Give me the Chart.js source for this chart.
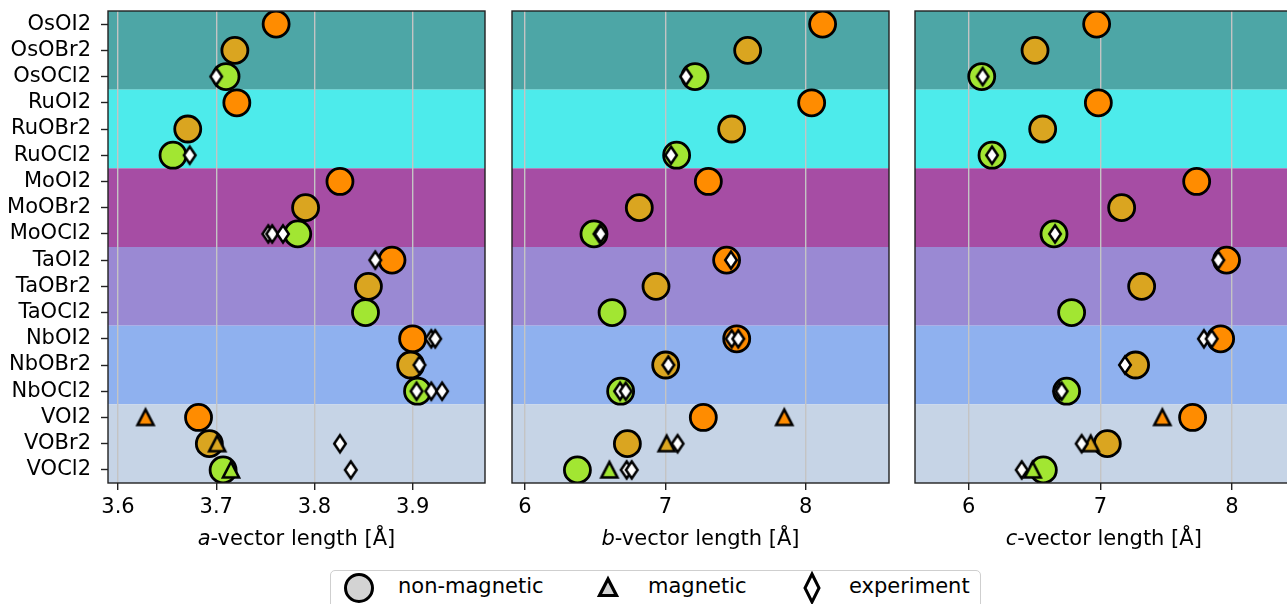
<!DOCTYPE html>
<html>
<head>
<meta charset="utf-8">
<script src="https://cdn.jsdelivr.net/npm/chart.js@4.4.1/dist/chart.umd.min.js"></script>
<style>
  html, body { margin: 0; padding: 0; background: #fff; }
  body { width: 1287px; height: 604px; overflow: hidden; position: relative; font-family: "DejaVu Sans", sans-serif; }
  canvas { position: absolute; top: 0; }
  #chartA { left: 0; }
  #chartB { left: 500px; }
  #chartC { left: 905px; }
  #legend { position: absolute; left: 330px; top: 570px; width: 649px; height: 50px;
            border: 1px solid #cfcfcf; border-radius: 5px; background: #fff; }
  #legend svg, #legend span { position: absolute; }
  #legend span { font-size: 21px; line-height: 21px; top: 5px; color: #000; white-space: nowrap; }
</style>
</head>
<body>
<canvas id="chartA" width="495" height="560"></canvas>
<canvas id="chartB" width="400" height="560"></canvas>
<canvas id="chartC" width="400" height="560"></canvas>

<div id="legend">
  <svg style="left:12px;top:1px" width="32" height="32"><circle cx="16" cy="16" r="13.5" fill="#d3d3d3" stroke="#000" stroke-width="3"/></svg>
  <span style="left:67px">non-magnetic</span>
  <svg style="left:264px;top:4px" width="26" height="26"><polygon points="13,4 4.5,20.5 21.5,20.5" fill="#d3d3d3" stroke="#000" stroke-width="3.2"/></svg>
  <span style="left:317px">magnetic</span>
  <svg style="left:468px;top:0px" width="26" height="34"><polygon points="13,3 20,17 13,31 6,17" fill="#fff" stroke="#000" stroke-width="3"/></svg>
  <span style="left:518px">experiment</span>
</div>

<script>
// lattice vector lengths of the MOX2 family, three panels (a, b, c)

const compounds = ["OsOI2", "OsOBr2", "OsOCl2", "RuOI2", "RuOBr2", "RuOCl2",
  "MoOI2", "MoOBr2", "MoOCl2", "TaOI2", "TaOBr2", "TaOCl2",
  "NbOI2", "NbOBr2", "NbOCl2", "VOI2", "VOBr2", "VOCl2"];

// a-vector
const aNonMag = [3.761, 3.719, 3.710, 3.721, 3.671, 3.656, 3.826, 3.791, 3.783,
  3.879, 3.855, 3.852, 3.900, 3.898, 3.905, 3.682, 3.693, 3.707];
const aMag = [null, null, null, null, null, null, null, null, null,
  null, null, null, null, null, null, 3.628, 3.701, 3.715];
const aExp = [[], [], [3.700], [], [], [3.673], [], [], [3.753, 3.757, 3.768],
  [3.862], [], [], [3.919, 3.923], [3.907], [3.904, 3.919, 3.930], [], [3.826], [3.837]];

// b-vector
const bNonMag = [8.120, 7.586, 7.211, 8.042, 7.472, 7.080, 7.306, 6.814, 6.491,
  7.436, 6.933, 6.620, 7.508, 7.002, 6.681, 7.270, 6.729, 6.373];
const bMag = [null, null, null, null, null, null, null, null, null,
  null, null, null, null, null, null, 7.847, 7.009, 6.601];
const bExp = [[], [], [7.147], [], [], [7.040], [], [], [6.530, 6.539],
  [7.467], [], [], [7.472, 7.519], [7.021], [6.677, 6.717], [], [7.087], [6.724, 6.760]];

// c-vector
const cNonMag = [6.972, 6.504, 6.099, 6.985, 6.562, 6.177, 7.732, 7.162, 6.648,
  7.959, 7.314, 6.782, 7.914, 7.268, 6.744, 7.701, 7.053, 6.567];
const cMag = [null, null, null, null, null, null, null, null, null,
  null, null, null, null, null, null, 7.471, 6.927, 6.486];
const cExp = [[], [], [6.106], [], [], [6.177], [], [], [6.656],
  [7.896], [], [], [7.787, 7.846], [7.187], [6.689, 6.706], [], [6.858], [6.403]];

const aTicks = [3.6, 3.7, 3.8, 3.9];
const bTicks = [6, 7, 8];
const cTicks = [6, 7, 8];

const halideColors = ["#ff8c00", "#daa520", "#a2e632"]; // I, Br, Cl
const bandColors = ["#4da6a6", "#4debeb", "#a64da4", "#9a89d3", "#8fb1ef", "#c6d4e6"]; // Os Ru Mo Ta Nb V

const FONT = "'DejaVu Sans', sans-serif";
Chart.defaults.font.family = FONT;
Chart.defaults.color = "#000";

// thin diamond + triangle markers as small canvases
function makeDiamond() {
  const c = document.createElement("canvas");
  c.width = 20; c.height = 26;
  const g = c.getContext("2d");
  g.beginPath();
  g.moveTo(10, 4.5); g.lineTo(15.8, 13); g.lineTo(10, 21.5); g.lineTo(4.2, 13);
  g.closePath();
  g.fillStyle = "#fff"; g.fill();
  g.lineWidth = 2.5; g.lineJoin = "miter"; g.strokeStyle = "#000"; g.stroke();
  return c;
}
function makeTriangle(color) {
  const c = document.createElement("canvas");
  c.width = 26; c.height = 26;
  const g = c.getContext("2d");
  g.beginPath();
  g.moveTo(13, 5); g.lineTo(21, 20.5); g.lineTo(5, 20.5);
  g.closePath();
  g.fillStyle = color; g.fill();
  g.lineWidth = 2.6; g.lineJoin = "miter"; g.strokeStyle = "#000"; g.stroke();
  return c;
}
const diamondImg = makeDiamond();
const triImgs = halideColors.map(makeTriangle);

const bandsPlugin = {
  id: "bands",
  beforeDraw(chart) {
    const { ctx, chartArea: { left, right }, scales: { y } } = chart;
    ctx.save();
    bandColors.forEach((col, k) => {
      const y0 = y.getPixelForValue(k * 3 - 0.5);
      const y1 = y.getPixelForValue(k * 3 + 2.5);
      ctx.fillStyle = col;
      ctx.fillRect(left, y0, right - left, y1 - y0);
    });
    ctx.restore();
  },
  afterDraw(chart) {
    const { ctx, chartArea: { left, right, top, bottom }, scales: { x } } = chart;
    ctx.save();
    ctx.strokeStyle = "#222";
    ctx.lineWidth = 1.4;
    ctx.strokeRect(left, top, right - left, bottom - top);

    // axis title with the italic vector letter
    const [letter, rest] = x.options.title.text;
    ctx.fillStyle = "#000";
    ctx.textBaseline = "middle";
    ctx.textAlign = "left";
    const it = "italic 21px " + FONT, up = "21px " + FONT;
    ctx.font = it;
    const w1 = ctx.measureText(letter).width;
    ctx.font = up;
    const w2 = ctx.measureText(rest).width;
    const x0 = (left + right) / 2 - (w1 + w2) / 2;
    const yT = 540;
    ctx.font = it;
    ctx.fillText(letter, x0, yT);
    ctx.font = up;
    ctx.fillText(rest, x0 + w1, yT);
    ctx.restore();
  }
};

function makePanel(id, nonMag, mag, exp, xMin, xMax, ticks, digits, title, showY, pad) {
  const circles = nonMag.map((v, i) => ({ x: v, y: i }));
  const tris = [];
  const triStyles = [];
  mag.forEach((v, i) => {
    if (v !== null) { tris.push({ x: v, y: i }); triStyles.push(triImgs[i % 3]); }
  });
  const exps = [];
  exp.forEach((list, i) => list.forEach(v => exps.push({ x: v, y: i })));

  return new Chart(document.getElementById(id), {
    type: "scatter",
    data: {
      datasets: [
        {
          label: "non-magnetic",
          data: circles,
          pointStyle: "circle",
          pointRadius: 13,
          borderWidth: 2.8,
          borderColor: "#000",
          backgroundColor: circles.map((p, i) => halideColors[i % 3]),
          order: 3
        },
        {
          label: "magnetic",
          data: tris,
          pointStyle: triStyles,
          pointRadius: 10,
          order: 2
        },
        {
          label: "experiment",
          data: exps,
          pointStyle: diamondImg,
          pointRadius: 10,
          order: 1
        }
      ]
    },
    options: {
      responsive: false,
      animation: false,
      events: [],
      layout: { padding: pad, autoPadding: false },
      plugins: { legend: { display: false }, tooltip: { enabled: false } },
      scales: {
        x: {
          type: "linear",
          min: xMin,
          max: xMax,
          afterBuildTicks: s => { s.ticks = ticks.map(v => ({ value: v })); },
          afterFit: s => { s.height = 77; s.paddingLeft = 0; s.paddingRight = 0; },
          grid: { color: "#c4c4c4", lineWidth: 1.4, drawTicks: true, tickLength: 7, tickColor: "#222", tickWidth: 1.4 },
          border: { display: false },
          ticks: {
            padding: 5,
            maxRotation: 0,
            font: { size: 21 },
            color: "#000",
            callback: v => v.toFixed(digits)
          },
          // drawn by the plugin so the vector letter can be italic
          title: { display: false, text: title }
        },
        y: {
          type: "linear",
          display: showY,
          min: -0.5,
          max: 17.5,
          reverse: true,
          afterBuildTicks: s => { s.ticks = compounds.map((c, i) => ({ value: i })); },
          afterFit: s => {
            s.width = showY ? 108 : 0;
            s.paddingTop = 0;
            s.paddingBottom = 0;
          },
          grid: { drawOnChartArea: false, drawTicks: true, tickLength: 7, tickColor: "#222", tickWidth: 1.4 },
          border: { display: false },
          ticks: {
            autoSkip: false,
            padding: 10,
            font: { size: 21 },
            color: "#000",
            callback: v => compounds[v]
          }
        }
      }
    },
    plugins: [bandsPlugin]
  });
}

makePanel("chartA", aNonMag, aMag, aExp, 3.5898, 3.9737, aTicks, 1,
  ["a", "-vector length [Å]"], true, { left: 0, top: 11, right: 10, bottom: 0 });
makePanel("chartB", bNonMag, bMag, bExp, 5.907, 8.593, bTicks, 0,
  ["b", "-vector length [Å]"], false, { left: 12, top: 11, right: 11, bottom: 0 });
makePanel("chartC", cNonMag, cMag, cExp, 5.592, 8.46, cTicks, 0,
  ["c", "-vector length [Å]"], false, { left: 10, top: 11, right: 12.5, bottom: 0 });
</script>
</body>
</html>
